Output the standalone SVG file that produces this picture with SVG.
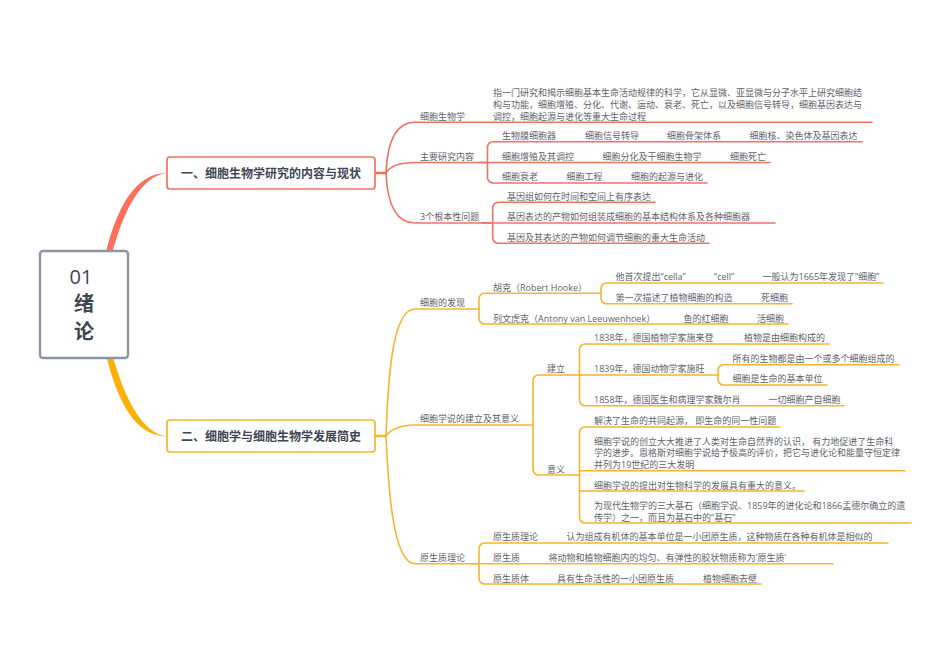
<svg xmlns="http://www.w3.org/2000/svg" width="950" height="672" viewBox="0 0 950 672">
<style>
text{font-family:"Open Sans","Noto Sans CJK SC",sans-serif;font-size:9px;fill:#5e6268;transform:translateY(.4px)}
.b{fill:none;stroke-width:1.6;stroke-linecap:round}
.r{stroke:#ef7363}.y{stroke:#f6b52f}
.s{stroke-width:2.6;fill:none}
.box{fill:#fff;stroke-width:1.7}
.t{font-size:12px;font-weight:700;fill:#3f4652}
.m{font-size:20px;fill:#3f4652}
.mb{font-size:20px;font-weight:700;fill:#3f4652}
</style>
<rect width="950" height="672" fill="#fff"/>
<g id="connectors">
<path d="M106,252C117,208 135,173 167,173C141,176 124,210 112.500,252Z" fill="#fb6f5c"/>
<path d="M106.500,357C118,402 135,436 167,436.500C143,433 126,402 113,357Z" fill="#fdb008"/>
<g class="s r"><path d="M375,173H386"/></g>
<g class="b r">
<path d="M386,173C387,150 392,122.300 415,122.300H872"/>
<path d="M386,173C390,166 400,162.500 415,162.500H770"/>
<path d="M386,173C387,196 392,223 415,223H775"/>
<path d="M479,162.500H487.500"/>
<path d="M862,141.700H493A5.500,5.500 0 0 0 487.500,147.200V177.500A5.500,5.500 0 0 0 493,183H707"/>
<path d="M482,223H492.700"/>
<path d="M655,202.300H498A5.500,5.500 0 0 0 492.700,207.800V237.800A5.500,5.500 0 0 0 498,243.300H709"/>
</g>
<g class="s y"><path d="M375,436H386"/></g>
<g class="b y">
<path d="M386,436C388,380 392,309 415,309H479"/>
<path d="M386,436C390,430 400,425 415,425H533"/>
<path d="M386,436C388,480 392,563.700 415,563.700H479"/>
<path d="M601,293.300H484.500A5.500,5.500 0 0 0 479,298.800V318.500A5.500,5.500 0 0 0 484.500,324H788"/>
<path d="M883,283H606.500A5.500,5.500 0 0 0 601,288.500V298.200A5.500,5.500 0 0 0 606.500,303.700H792"/>
<path d="M579.500,375H538.500A5.500,5.500 0 0 0 533,380.500V469.500A5.500,5.500 0 0 0 538.500,475H579.500"/>
<path d="M829,344H585A5.500,5.500 0 0 0 579.500,349.500V400.200A5.500,5.500 0 0 0 585,405.700H844"/>
<path d="M579.500,375H718"/>
<path d="M899,364.700H723.500A5.500,5.500 0 0 0 718,370.200V379.500A5.500,5.500 0 0 0 723.500,385H827"/>
<path d="M780,427H585A5.500,5.500 0 0 0 579.500,432.500V517.500A5.500,5.500 0 0 0 585,523H911"/>
<path d="M579.500,470.700H905"/>
<path d="M579.500,491H804"/>
<path d="M888,543H484.500A5.500,5.500 0 0 0 479,548.500V578.500A5.500,5.500 0 0 0 484.500,584H761"/>
<path d="M470,563.700H833"/>
</g>
</g>
<g id="root"><rect class="box" x="40" y="251" width="88" height="107" rx="3" stroke="#8b95a6" style="stroke-width:2.4"/><text class="m" x="69.500" y="284">01</text><text class="mb" x="74" y="311">绪</text><text class="mb" x="74" y="339">论</text></g>
<g id="n1"><rect class="box r" x="167" y="157" width="208" height="32" rx="3"/><text class="t" x="181" y="177.300">一、细胞生物学研究的内容与现状</text></g>
<g id="n2"><rect class="box y" x="167" y="420" width="208" height="32" rx="3"/><text class="t" x="181" y="440.300">二、细胞学与细胞生物学发展简史</text></g>
<g id="s1-labels">
<text x="420" y="119.300">细胞生物学</text>
<text x="420" y="159.300">主要研究内容</text>
<text x="420" y="219.800">3个根本性问题</text>
</g>
<g id="s1-def">
<text x="493" y="96">指一门研究和揭示细胞基本生命活动规律的科学，它从显微、亚显微与分子水平上研究细胞结</text>
<text x="493" y="107.800">构与功能，细胞增殖、分化、代谢、运动、衰老、死亡，以及细胞信号转导，细胞基因表达与</text>
<text x="493" y="119.300">调控，细胞起源与进化等重大生命过程</text>
</g>
<g id="s1-content">
<text x="502" y="138.500">生物膜细胞器</text><text x="585" y="138.500">细胞信号转导</text><text x="667" y="138.500">细胞骨架体系</text><text x="749.500" y="138.500">细胞核、染色体及基因表达</text>
<text x="502" y="159.300">细胞增殖及其调控</text><text x="602.500" y="159.300">细胞分化及干细胞生物学</text><text x="730" y="159.300">细胞死亡</text>
<text x="502" y="180">细胞衰老</text><text x="566.500" y="180">细胞工程</text><text x="631" y="180">细胞的起源与进化</text>
</g>
<g id="s1-questions">
<text x="507" y="199.300">基因组如何在时间和空间上有序表达</text>
<text x="507" y="220">基因表达的产物如何组装成细胞的基本结构体系及各种细胞器</text>
<text x="507" y="240.300">基因及其表达的产物如何调节细胞的重大生命活动</text>
</g>
<g id="s2-labels">
<text x="420" y="306">细胞的发现</text>
<text x="420" y="421.500">细胞学说的建立及其意义</text>
<text x="420" y="560.300">原生质理论</text>
</g>
<g id="discovery">
<text x="493" y="290.300">胡克（Robert Hooke）</text>
<text x="615.500" y="280">他首次提出“cella”</text><text x="714" y="280">“cell”</text><text x="762.500" y="280">一般认为1665年发现了“细胞”</text>
<text x="615.500" y="300.300">第一次描述了植物细胞的构造</text><text x="761" y="300.300">死细胞</text>
<text x="493" y="321.300">列文虎克（Antony van Leeuwenhoek）</text><text x="683.500" y="321.300">鱼的红细胞</text><text x="757" y="321.300">活细胞</text>
</g>
<g id="theory">
<text x="547" y="371.500">建立</text>
<text x="594" y="340.500">1838年，德国植物学家施来登</text><text x="744" y="340.500">植物是由细胞构成的</text>
<text x="594" y="371.500">1839年，德国动物学家施旺</text>
<text x="732.500" y="361.300">所有的生物都是由一个或多个细胞组成的</text><text x="732.500" y="381.500">细胞是生命的基本单位</text>
<text x="594" y="402.300">1858年，德国医生和病理学家魏尔肖</text><text x="768.500" y="402.300">一切细胞产自细胞</text>
<text x="547" y="472.300">意义</text>
<text x="594" y="423.300">解决了生命的共同起源， 即生命的同一性问题</text>
<text x="594" y="444.300">细胞学说的创立大大推进了人类对生命自然界的认识， 有力地促进了生命科</text>
<text x="594" y="455.800">学的进步。恩格斯对细胞学说给予极高的评价，把它与进化论和能量守恒定律</text>
<text x="594" y="467.300">并列为19世纪的三大发明</text>
<text x="594" y="488.300">细胞学说的提出对生物科学的发展具有重大的意义。</text>
<text x="594" y="508.800">为现代生物学的三大基石（细胞学说、1859年的进化论和1866孟德尔确立的遗</text>
<text x="594" y="520.300">传学）之一，而且为基石中的“基石”</text>
</g>
<g id="protoplasm">
<text x="493" y="540">原生质理论</text><text x="566.500" y="540">认为组成有机体的基本单位是一小团原生质，这种物质在各种有机体是相似的</text>
<text x="493" y="560.300">原生质</text><text x="548.500" y="560.300">将动物和植物细胞内的均匀、有弹性的胶状物质称为'原生质'</text>
<text x="493" y="581.300">原生质体</text><text x="557" y="581.300">具有生命活性的一小团原生质</text><text x="703" y="581.300">植物细胞去壁</text>
</g>
</svg>
